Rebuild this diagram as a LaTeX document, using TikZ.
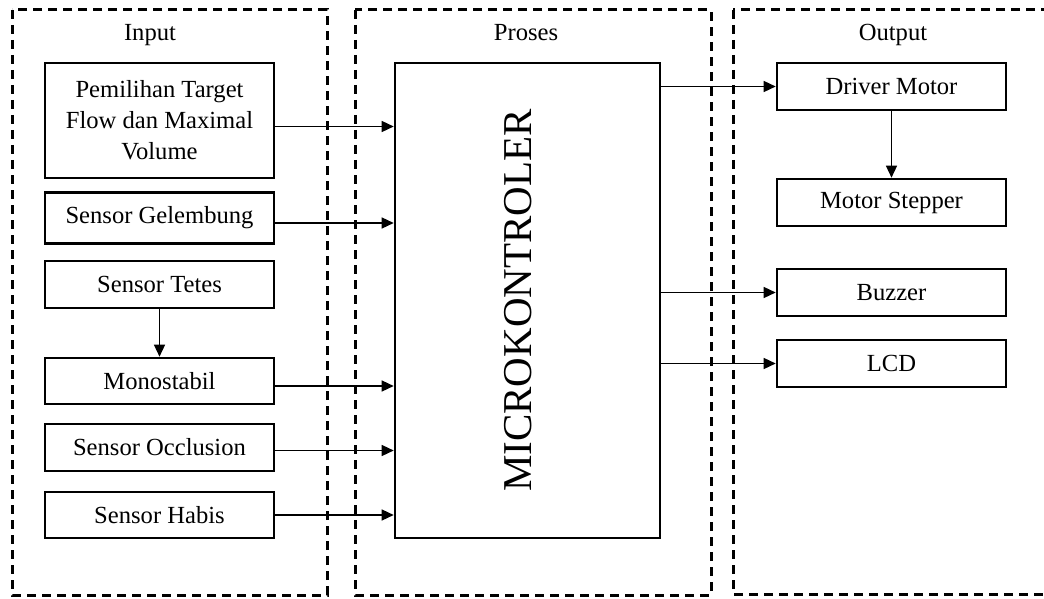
\documentclass[tikz,border=0pt]{standalone}
\usepackage{fontspec}
\setmainfont{Liberation Serif}
\usetikzlibrary{arrows.meta,calc}
\begin{document}
\begin{tikzpicture}[x=1pt,y=-1pt,
  grp/.style={draw,line width=3pt,dash pattern=on 9pt off 6pt},
  blk/.style={draw,line width=2.6pt,minimum width=229pt,minimum height=47pt,align=center,
    font=\fontsize{24.6}{31}\selectfont,inner sep=0pt},
  arr/.style={line width=1.4pt,-{Triangle[length=12pt,width=11pt]}},
  ttl/.style={font=\fontsize{24.6}{30}\selectfont,inner sep=0pt,anchor=base}]
\useasboundingbox (0,0) rectangle (1044,599);
\clip (0,0) rectangle (1044,599);
% group frames
\draw[grp] (12,10) rectangle (327,595);
\draw[grp] (355,10) rectangle (711,595);
\draw[grp] (733,10) rectangle (1080,594);
% titles
\node[ttl] (tin) at (150,41) {Input};
\node[ttl] (tpr) at (526,41) {Proses};
\node[ttl] (tout) at (893,41) {Output};
% input blocks
\node[blk,minimum height=115pt] (pem) at (159.5,120.5) {Pemilihan Target\\Flow dan Maximal\\Volume};
\node[blk,minimum height=51pt] (gel) at (159.5,218) {Sensor Gelembung};
\node[blk] (tet) at (159.5,284.5) {Sensor Tetes};
\node[blk,minimum height=46pt] (mono) at (159.5,381) {Monostabil};
\node[blk] (occ) at (159.5,447.5) {Sensor Occlusion};
\node[blk,minimum height=46pt] (hab) at (159.5,515) {Sensor Habis};
% microcontroller
\node[draw,line width=2.6pt,minimum width=265pt,minimum height=475pt,inner sep=0pt] (mc) at (527.5,300.5) {};
\node[rotate=90,inner sep=0pt,font=\fontsize{41}{41}\selectfont] (mct) at ([xshift=-9pt]mc.center) {MICROKONTROLER};
% output blocks
\node[blk] (dm) at (891.5,86.5) {Driver Motor};
\node[blk] (ms) at (891.5,202.5) {Motor Stepper};
\node[blk] (buz) at (891.5,292.5) {Buzzer};
\node[blk] (lcd) at (891.5,363.5) {LCD};
% input arrows
\coordinate (a1) at ([yshift=-6pt]pem.east);
\coordinate (a2) at ([yshift=-5pt]gel.east);
\coordinate (a3) at ([yshift=-5pt]mono.east);
\coordinate (a4) at ([yshift=-3pt]occ.east);
\coordinate (a5) at (hab.east);
\foreach \c in {a1,a2,a3,a4,a5}{\draw[arr] (\c) -- (\c -| mc.west);}
\draw[arr] (tet.south) -- (mono.north);
% output arrows
\draw[arr] (mc.east |- dm.west) -- (dm.west);
\draw[arr] (mc.east |- buz.west) -- (buz.west);
\draw[arr] (mc.east |- lcd.west) -- (lcd.west);
\draw[arr] (dm.south) -- (ms.north);
\end{tikzpicture}
\end{document}
